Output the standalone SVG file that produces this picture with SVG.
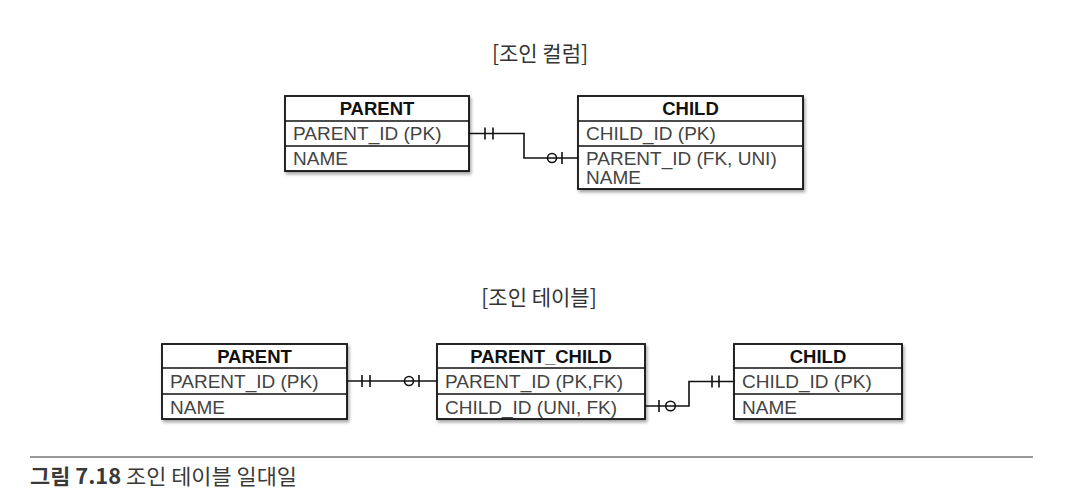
<svg xmlns="http://www.w3.org/2000/svg" width="1066" height="504" viewBox="0 0 1066 504">
  <defs>
    <filter id="sh" x="-10%" y="-10%" width="125%" height="135%">
      <feDropShadow dx="1.5" dy="2.5" stdDeviation="1.8" flood-color="#000" flood-opacity="0.35"/>
    </filter>
  </defs>
  <style>
    .box{fill:#fff;stroke:#111;stroke-width:1.8}
    .sep{stroke:#111;stroke-width:1.6;fill:none}
    .hd{font-family:"Liberation Sans",Arial,sans-serif;font-size:18.5px;font-weight:bold;fill:#111;text-anchor:middle}
    .at{font-family:"Liberation Sans",Arial,sans-serif;font-size:19px;fill:#444}
    .ttl{font-family:"Noto Sans CJK KR","Noto Sans",sans-serif;font-size:21px;fill:#333;text-anchor:middle}
    .cn{stroke:#111;stroke-width:1.6;fill:none}
    .cap{font-family:"Noto Sans CJK KR","Noto Sans",sans-serif;font-size:21px;fill:#3a3a3a}
  </style>
  <rect width="1066" height="504" fill="#fff"/>

  <text class="ttl" x="540" y="61">[조인 컬럼]</text>
  <text class="ttl" x="539" y="305">[조인 테이블]</text>

  <g id="top-parent">
    <rect class="box" x="285" y="96" width="184" height="75" filter="url(#sh)"/>
    <path class="sep" d="M285,121H469M285,146H469"/>
    <text class="hd" x="377" y="115">PARENT</text>
    <text class="at" x="293" y="140">PARENT_ID (PK)</text>
    <text class="at" x="293" y="165">NAME</text>
  </g>

  <g id="top-child">
    <rect class="box" x="578" y="96" width="225" height="93" filter="url(#sh)"/>
    <path class="sep" d="M578,121H803M578,146H803"/>
    <text class="hd" x="690.5" y="115">CHILD</text>
    <text class="at" x="586" y="140">CHILD_ID (PK)</text>
    <text class="at" x="586" y="164.5">PARENT_ID (FK, UNI)</text>
    <text class="at" x="586" y="183.5">NAME</text>
  </g>

  <g id="bottom-parent">
    <rect class="box" x="162" y="344" width="185" height="75" filter="url(#sh)"/>
    <path class="sep" d="M162,368H347M162,394H347"/>
    <text class="hd" x="254.5" y="362.5">PARENT</text>
    <text class="at" x="170" y="388">PARENT_ID (PK)</text>
    <text class="at" x="170" y="413.5">NAME</text>
  </g>

  <g id="parent-child">
    <rect class="box" x="437" y="344" width="208" height="75" filter="url(#sh)"/>
    <path class="sep" d="M437,368H645M437,394H645"/>
    <text class="hd" x="541" y="362.5">PARENT_CHILD</text>
    <text class="at" x="445" y="388">PARENT_ID (PK,FK)</text>
    <text class="at" x="445" y="413.5">CHILD_ID (UNI, FK)</text>
  </g>

  <g id="bottom-child">
    <rect class="box" x="734" y="344" width="168" height="75" filter="url(#sh)"/>
    <path class="sep" d="M734,368H902M734,394H902"/>
    <text class="hd" x="818" y="362.5">CHILD</text>
    <text class="at" x="742" y="388">CHILD_ID (PK)</text>
    <text class="at" x="742" y="413.5">NAME</text>
  </g>

  <g id="connectors">
    <path class="cn" d="M469,133.5H524V158H578"/>
    <path class="cn" d="M485,127.5V139.5M493,127.5V139.5"/>
    <circle class="cn" cx="552" cy="158" r="4.5" fill="#fff"/>
    <path class="cn" d="M562,152V164"/>

    <path class="cn" d="M347,381H437"/>
    <path class="cn" d="M362,375V387M370,375V387"/>
    <circle class="cn" cx="409" cy="381" r="4.5" fill="#fff"/>
    <path class="cn" d="M419,375V387"/>

    <path class="cn" d="M645,406H689V381.5H734"/>
    <path class="cn" d="M659,400V412"/>
    <circle class="cn" cx="670.5" cy="406" r="4.8" fill="#fff"/>
    <path class="cn" d="M712,375.5V387.5M719,375.5V387.5"/>
  </g>

  <line x1="30" y1="457" x2="1033" y2="457" stroke="#9a9a9a" stroke-width="2"/>
  <text class="cap" x="30" y="484" textLength="267" lengthAdjust="spacingAndGlyphs"><tspan font-weight="bold">그림 7.18</tspan> 조인 테이블 일대일</text>
</svg>
